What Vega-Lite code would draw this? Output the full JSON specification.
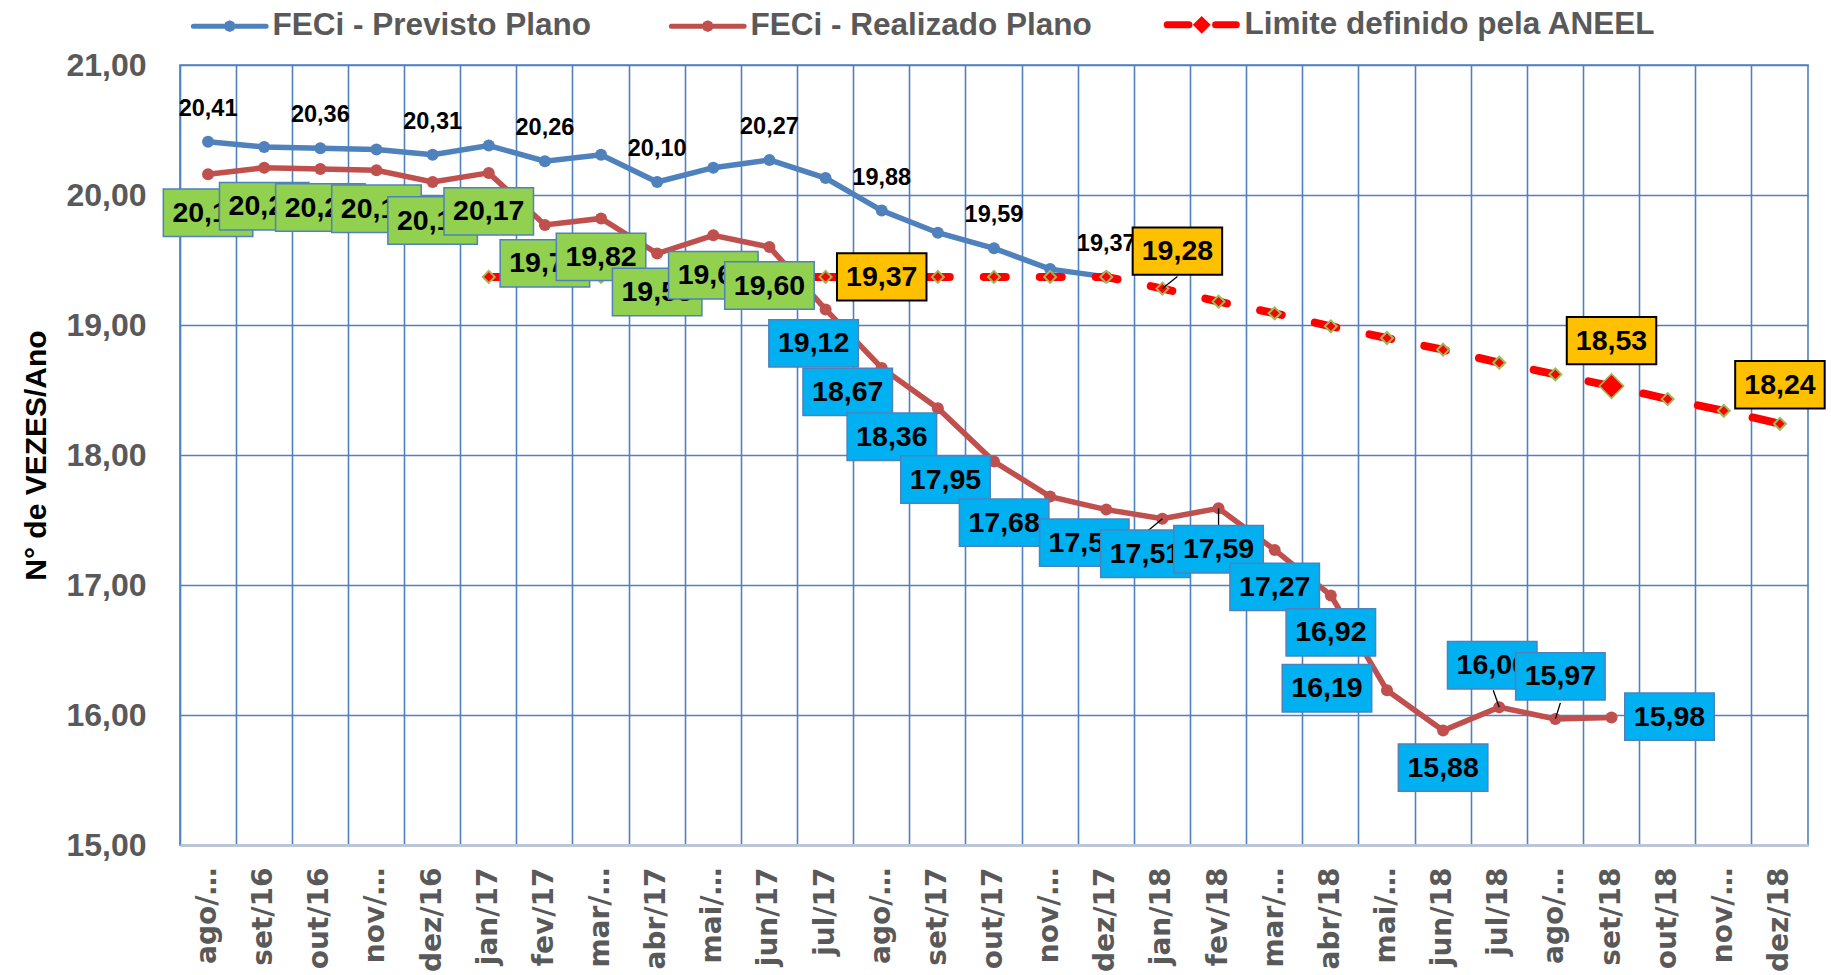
{
"$schema": "https://vega.github.io/schema/vega-lite/v6.json",
"width": 1628, "height": 780,
"autosize": {"type": "none"},
"padding": {"left": 180, "top": 65, "right": 23, "bottom": 130},
"background": "white",
"config": {
  "locale": {"number": {"decimal": ",", "thousands": ".", "grouping": [3], "currency": ["R$", ""]}},
  "view": {"stroke": "#4F81BD", "strokeWidth": 1.6},
  "font": "Liberation Sans"
},
"data": {"values": [
{"mes":"ago/16","previsto":20.41,"realizado":20.16,"limite":null},
{"mes":"set/16","previsto":20.37,"realizado":20.21,"limite":null},
{"mes":"out/16","previsto":20.36,"realizado":20.20,"limite":null},
{"mes":"nov/16","previsto":20.35,"realizado":20.19,"limite":null},
{"mes":"dez/16","previsto":20.31,"realizado":20.10,"limite":null},
{"mes":"jan/17","previsto":20.38,"realizado":20.17,"limite":19.37},
{"mes":"fev/17","previsto":20.26,"realizado":19.77,"limite":19.37},
{"mes":"mar/17","previsto":20.31,"realizado":19.82,"limite":19.37},
{"mes":"abr/17","previsto":20.10,"realizado":19.55,"limite":19.37},
{"mes":"mai/17","previsto":20.21,"realizado":19.69,"limite":19.37},
{"mes":"jun/17","previsto":20.27,"realizado":19.60,"limite":19.37},
{"mes":"jul/17","previsto":20.13,"realizado":19.12,"limite":19.37},
{"mes":"ago/17","previsto":19.88,"realizado":18.67,"limite":19.37},
{"mes":"set/17","previsto":19.71,"realizado":18.36,"limite":19.37},
{"mes":"out/17","previsto":19.59,"realizado":17.95,"limite":19.37},
{"mes":"nov/17","previsto":19.43,"realizado":17.68,"limite":19.37},
{"mes":"dez/17","previsto":19.37,"realizado":17.58,"limite":19.37},
{"mes":"jan/18","previsto":null,"realizado":17.51,"limite":19.28},
{"mes":"fev/18","previsto":null,"realizado":17.59,"limite":19.18},
{"mes":"mar/18","previsto":null,"realizado":17.27,"limite":19.09},
{"mes":"abr/18","previsto":null,"realizado":16.92,"limite":18.99},
{"mes":"mai/18","previsto":null,"realizado":16.19,"limite":18.90},
{"mes":"jun/18","previsto":null,"realizado":15.88,"limite":18.81},
{"mes":"jul/18","previsto":null,"realizado":16.06,"limite":18.71},
{"mes":"ago/18","previsto":null,"realizado":15.97,"limite":18.62},
{"mes":"set/18","previsto":null,"realizado":15.98,"limite":18.53},
{"mes":"out/18","previsto":null,"realizado":null,"limite":18.43},
{"mes":"nov/18","previsto":null,"realizado":null,"limite":18.34},
{"mes":"dez/18","previsto":null,"realizado":null,"limite":18.24}
]},
"encoding": {
  "x": {"field": "mes", "type": "ordinal", "sort": null,
    "scale": {"type": "band", "paddingInner": 0, "paddingOuter": 0},
    "axis": {"title": null, "labelAngle": -90, "labelFont": "DejaVu Sans", "labelFontSize": 28, "labelFontWeight": "bold", "labelColor": "#595959", "labelPadding": 22, "ticks": false, "bandPosition": 0, "grid": true, "gridColor": "#4F81BD", "gridWidth": 1.6, "domainColor": "#BCC6D6", "domainWidth": 3, "labelOverlap": false, "labelBound": false,
      "labelExpr": "indexof(['ago','nov','mar','mai'], slice(datum.value,0,3)) >= 0 ? slice(datum.value,0,4) + '…' : datum.value"}}
},
"layer": [
{"mark": {"type": "line", "strokeWidth": 5.5, "point": {"filled": true, "size": 144, "opacity": 1}},
 "encoding": {
  "y": {"field": "previsto", "type": "quantitative", "scale": {"domain": [15, 21], "nice": false, "zero": false},
    "axis": {"title": "N° de VEZES/Ano", "values": [15,16,17,18,19,20,21], "format": ".2f", "labelFont": "Liberation Sans", "labelFontSize": 32, "labelFontWeight": "bold", "labelColor": "#595959", "labelPadding": 34, "ticks": false, "domain": false, "grid": true, "gridColor": "#4F81BD", "gridWidth": 1.6, "titleFont": "Liberation Sans", "titleFontSize": 30, "titleFontWeight": "bold", "titleColor": "black", "titlePadding": 14}},
  "color": {"datum": "FECi  - Previsto Plano", "type": "nominal",
    "scale": {"domain": ["FECi  - Previsto Plano", "FECi - Realizado Plano", "Limite definido pela ANEEL"], "range": ["#4F81BD", "#C0504D", "#FF0000"]},
    "legend": {"orient": "none", "legendX": 34, "legendY": -56, "direction": "horizontal", "title": null, "padding": 0,
      "labelFont": "Liberation Sans", "labelFontSize": 31.5, "labelFontWeight": "bold", "labelColor": "#595959", "labelLimit": 1000, "labelOffset": 27,
      "symbolSize": 5300, "symbolStrokeWidth": 5, "columnPadding": 61,
      "encode": {"symbols": {"update": {
        "shape": {"signal": "datum.value === 'Limite definido pela ANEEL' ? 'M-0.95,0H-0.35M0.38,0H0.95M0,-0.11L0.11,0L0,0.11L-0.11,0Z' : 'M-1,0H1M0.09,0L0.064,0.064L0,0.09L-0.064,0.064L-0.09,0L-0.064,-0.064L0,-0.09L0.064,-0.064Z'"},
        "fill": {"signal": "datum.value === 'Limite definido pela ANEEL' ? '#FF0000' : datum.value === 'FECi - Realizado Plano' ? '#C0504D' : '#4F81BD'"},
        "strokeWidth": {"signal": "datum.value === 'Limite definido pela ANEEL' ? 7 : 5"},
        "strokeCap": {"value": "round"}
      }}}}}
 }},
{"mark": {"type": "line", "strokeWidth": 5.5, "point": {"filled": true, "size": 144, "opacity": 1}},
 "encoding": {"y": {"field": "realizado", "type": "quantitative"}, "color": {"datum": "FECi - Realizado Plano", "type": "nominal"}}},
{"mark": {"type": "line", "strokeWidth": 8, "strokeDash": [22, 34], "strokeDashOffset": 9, "strokeCap": "round"},
 "encoding": {"y": {"field": "limite", "type": "quantitative"}, "color": {"datum": "Limite definido pela ANEEL", "type": "nominal"}}},
{"transform": [{"filter": "isValid(datum.limite)"}],
 "mark": {"type": "point", "shape": "diamond", "filled": true, "fill": "#FF0000", "stroke": "#9BBB59", "strokeWidth": 2, "size": 144, "opacity": 1},
 "encoding": {"y": {"field": "limite", "type": "quantitative"}}},
{"transform": [{"filter": {"field": "mes", "equal": "set/18"}}],
 "mark": {"type": "point", "shape": "diamond", "filled": true, "fill": "#FF0000", "stroke": "#9BBB59", "strokeWidth": 1.5, "size": 600, "opacity": 1},
 "encoding": {"y": {"field": "limite", "type": "quantitative"}}},
{"transform": [{"filter": {"field": "mes", "oneOf": ["ago/16","out/16","dez/16","fev/17","abr/17","jun/17","ago/17","out/17","dez/17"]}}],
 "mark": {"type": "text", "fontSize": 23.5, "fontWeight": "bold", "color": "black", "dy": -33},
 "encoding": {"y": {"field": "previsto", "type": "quantitative"}, "text": {"field": "previsto", "type": "quantitative", "format": ".2f"}}},

{"transform":[{"filter":{"field":"mes","equal":"ago/16"}}],"encoding":{"y":{"field":"realizado","type":"quantitative"}},"layer":[
 {"mark":{"type":"point","shape":"M-1,-0.53H1V0.53H-1Z","size":8010,"filled":true,"fill":"#92D050","stroke":"#4F81BD","strokeWidth":1.5,"opacity":1,"xOffset":0,"yOffset":38.5}},
 {"mark":{"type":"text","fontSize":28.5,"fontWeight":"bold","color":"black","dx":0,"dy":38.5},"encoding":{"text":{"field":"realizado","type":"quantitative","format":".2f"}}}]},
{"transform":[{"filter":{"field":"mes","equal":"set/16"}}],"encoding":{"y":{"field":"realizado","type":"quantitative"}},"layer":[
 {"mark":{"type":"point","shape":"M-1,-0.53H1V0.53H-1Z","size":8010,"filled":true,"fill":"#92D050","stroke":"#4F81BD","strokeWidth":1.5,"opacity":1,"xOffset":0,"yOffset":38.5}},
 {"mark":{"type":"text","fontSize":28.5,"fontWeight":"bold","color":"black","dx":0,"dy":38.5},"encoding":{"text":{"field":"realizado","type":"quantitative","format":".2f"}}}]},
{"transform":[{"filter":{"field":"mes","equal":"out/16"}}],"encoding":{"y":{"field":"realizado","type":"quantitative"}},"layer":[
 {"mark":{"type":"point","shape":"M-1,-0.53H1V0.53H-1Z","size":8010,"filled":true,"fill":"#92D050","stroke":"#4F81BD","strokeWidth":1.5,"opacity":1,"xOffset":0,"yOffset":38.5}},
 {"mark":{"type":"text","fontSize":28.5,"fontWeight":"bold","color":"black","dx":0,"dy":38.5},"encoding":{"text":{"field":"realizado","type":"quantitative","format":".2f"}}}]},
{"transform":[{"filter":{"field":"mes","equal":"nov/16"}}],"encoding":{"y":{"field":"realizado","type":"quantitative"}},"layer":[
 {"mark":{"type":"point","shape":"M-1,-0.53H1V0.53H-1Z","size":8010,"filled":true,"fill":"#92D050","stroke":"#4F81BD","strokeWidth":1.5,"opacity":1,"xOffset":0,"yOffset":38.5}},
 {"mark":{"type":"text","fontSize":28.5,"fontWeight":"bold","color":"black","dx":0,"dy":38.5},"encoding":{"text":{"field":"realizado","type":"quantitative","format":".2f"}}}]},
{"transform":[{"filter":{"field":"mes","equal":"dez/16"}}],"encoding":{"y":{"field":"realizado","type":"quantitative"}},"layer":[
 {"mark":{"type":"point","shape":"M-1,-0.53H1V0.53H-1Z","size":8010,"filled":true,"fill":"#92D050","stroke":"#4F81BD","strokeWidth":1.5,"opacity":1,"xOffset":0,"yOffset":38.5}},
 {"mark":{"type":"text","fontSize":28.5,"fontWeight":"bold","color":"black","dx":0,"dy":38.5},"encoding":{"text":{"field":"realizado","type":"quantitative","format":".2f"}}}]},
{"transform":[{"filter":{"field":"mes","equal":"jan/17"}}],"encoding":{"y":{"field":"realizado","type":"quantitative"}},"layer":[
 {"mark":{"type":"point","shape":"M-1,-0.53H1V0.53H-1Z","size":8010,"filled":true,"fill":"#92D050","stroke":"#4F81BD","strokeWidth":1.5,"opacity":1,"xOffset":0,"yOffset":38.5}},
 {"mark":{"type":"text","fontSize":28.5,"fontWeight":"bold","color":"black","dx":0,"dy":38.5},"encoding":{"text":{"field":"realizado","type":"quantitative","format":".2f"}}}]},
{"transform":[{"filter":{"field":"mes","equal":"fev/17"}}],"encoding":{"y":{"field":"realizado","type":"quantitative"}},"layer":[
 {"mark":{"type":"point","shape":"M-1,-0.53H1V0.53H-1Z","size":8010,"filled":true,"fill":"#92D050","stroke":"#4F81BD","strokeWidth":1.5,"opacity":1,"xOffset":0,"yOffset":38.5}},
 {"mark":{"type":"text","fontSize":28.5,"fontWeight":"bold","color":"black","dx":0,"dy":38.5},"encoding":{"text":{"field":"realizado","type":"quantitative","format":".2f"}}}]},
{"transform":[{"filter":{"field":"mes","equal":"mar/17"}}],"encoding":{"y":{"field":"realizado","type":"quantitative"}},"layer":[
 {"mark":{"type":"point","shape":"M-1,-0.53H1V0.53H-1Z","size":8010,"filled":true,"fill":"#92D050","stroke":"#4F81BD","strokeWidth":1.5,"opacity":1,"xOffset":0,"yOffset":38.5}},
 {"mark":{"type":"text","fontSize":28.5,"fontWeight":"bold","color":"black","dx":0,"dy":38.5},"encoding":{"text":{"field":"realizado","type":"quantitative","format":".2f"}}}]},
{"transform":[{"filter":{"field":"mes","equal":"abr/17"}}],"encoding":{"y":{"field":"realizado","type":"quantitative"}},"layer":[
 {"mark":{"type":"point","shape":"M-1,-0.53H1V0.53H-1Z","size":8010,"filled":true,"fill":"#92D050","stroke":"#4F81BD","strokeWidth":1.5,"opacity":1,"xOffset":0,"yOffset":38.5}},
 {"mark":{"type":"text","fontSize":28.5,"fontWeight":"bold","color":"black","dx":0,"dy":38.5},"encoding":{"text":{"field":"realizado","type":"quantitative","format":".2f"}}}]},
{"transform":[{"filter":{"field":"mes","equal":"mai/17"}}],"encoding":{"y":{"field":"realizado","type":"quantitative"}},"layer":[
 {"mark":{"type":"point","shape":"M-1,-0.53H1V0.53H-1Z","size":8010,"filled":true,"fill":"#92D050","stroke":"#4F81BD","strokeWidth":1.5,"opacity":1,"xOffset":0,"yOffset":40}},
 {"mark":{"type":"text","fontSize":28.5,"fontWeight":"bold","color":"black","dx":0,"dy":40},"encoding":{"text":{"field":"realizado","type":"quantitative","format":".2f"}}}]},
{"transform":[{"filter":{"field":"mes","equal":"jun/17"}}],"encoding":{"y":{"field":"realizado","type":"quantitative"}},"layer":[
 {"mark":{"type":"point","shape":"M-1,-0.53H1V0.53H-1Z","size":8010,"filled":true,"fill":"#92D050","stroke":"#4F81BD","strokeWidth":1.5,"opacity":1,"xOffset":0,"yOffset":38.5}},
 {"mark":{"type":"text","fontSize":28.5,"fontWeight":"bold","color":"black","dx":0,"dy":38.5},"encoding":{"text":{"field":"realizado","type":"quantitative","format":".2f"}}}]},
{"transform":[{"filter":{"field":"mes","equal":"jul/17"}}],"encoding":{"y":{"field":"realizado","type":"quantitative"}},"layer":[
 {"mark":{"type":"point","shape":"M-1,-0.53H1V0.53H-1Z","size":8010,"filled":true,"fill":"#00B0F0","stroke":"#4F81BD","strokeWidth":1.5,"opacity":1,"xOffset":-12,"yOffset":34}},
 {"mark":{"type":"text","fontSize":28.5,"fontWeight":"bold","color":"black","dx":-12,"dy":34},"encoding":{"text":{"field":"realizado","type":"quantitative","format":".2f"}}}]},
{"transform":[{"filter":{"field":"mes","equal":"ago/17"}}],"encoding":{"y":{"field":"realizado","type":"quantitative"}},"layer":[
 {"mark":{"type":"point","shape":"M-1,-0.53H1V0.53H-1Z","size":8010,"filled":true,"fill":"#00B0F0","stroke":"#4F81BD","strokeWidth":1.5,"opacity":1,"xOffset":-34,"yOffset":24}},
 {"mark":{"type":"text","fontSize":28.5,"fontWeight":"bold","color":"black","dx":-34,"dy":24},"encoding":{"text":{"field":"realizado","type":"quantitative","format":".2f"}}}]},
{"transform":[{"filter":{"field":"mes","equal":"set/17"}}],"encoding":{"y":{"field":"realizado","type":"quantitative"}},"layer":[
 {"mark":{"type":"point","shape":"M-1,-0.53H1V0.53H-1Z","size":8010,"filled":true,"fill":"#00B0F0","stroke":"#4F81BD","strokeWidth":1.5,"opacity":1,"xOffset":-46,"yOffset":28.5}},
 {"mark":{"type":"text","fontSize":28.5,"fontWeight":"bold","color":"black","dx":-46,"dy":28.5},"encoding":{"text":{"field":"realizado","type":"quantitative","format":".2f"}}}]},
{"transform":[{"filter":{"field":"mes","equal":"out/17"}}],"encoding":{"y":{"field":"realizado","type":"quantitative"}},"layer":[
 {"mark":{"type":"point","shape":"M-1,-0.53H1V0.53H-1Z","size":8010,"filled":true,"fill":"#00B0F0","stroke":"#4F81BD","strokeWidth":1.5,"opacity":1,"xOffset":-48.5,"yOffset":18}},
 {"mark":{"type":"text","fontSize":28.5,"fontWeight":"bold","color":"black","dx":-48.5,"dy":18},"encoding":{"text":{"field":"realizado","type":"quantitative","format":".2f"}}}]},
{"transform":[{"filter":{"field":"mes","equal":"nov/17"}}],"encoding":{"y":{"field":"realizado","type":"quantitative"}},"layer":[
 {"mark":{"type":"point","shape":"M-1,-0.53H1V0.53H-1Z","size":8010,"filled":true,"fill":"#00B0F0","stroke":"#4F81BD","strokeWidth":1.5,"opacity":1,"xOffset":-46,"yOffset":26}},
 {"mark":{"type":"text","fontSize":28.5,"fontWeight":"bold","color":"black","dx":-46,"dy":26},"encoding":{"text":{"field":"realizado","type":"quantitative","format":".2f"}}}]},
{"transform":[{"filter":{"field":"mes","equal":"dez/17"}}],"encoding":{"y":{"field":"realizado","type":"quantitative"}},"layer":[
 {"mark":{"type":"point","shape":"M-1,-0.53H1V0.53H-1Z","size":8010,"filled":true,"fill":"#00B0F0","stroke":"#4F81BD","strokeWidth":1.5,"opacity":1,"xOffset":-22,"yOffset":33}},
 {"mark":{"type":"text","fontSize":28.5,"fontWeight":"bold","color":"black","dx":-22,"dy":33},"encoding":{"text":{"field":"realizado","type":"quantitative","format":".2f"}}}]},
{"transform":[{"filter":{"field":"mes","equal":"jan/18"}}],"encoding":{"y":{"field":"realizado","type":"quantitative"}},"layer":[
 {"mark":{"type":"point","shape":"M0,0L-0.77,0.635","size":1600,"filled":false,"stroke":"black","strokeWidth":1.3,"opacity":1}},
 {"mark":{"type":"point","shape":"M-1,-0.53H1V0.53H-1Z","size":8010,"filled":true,"fill":"#00B0F0","stroke":"#4F81BD","strokeWidth":1.5,"opacity":1,"xOffset":-17,"yOffset":35}},
 {"mark":{"type":"text","fontSize":28.5,"fontWeight":"bold","color":"black","dx":-17,"dy":35},"encoding":{"text":{"field":"realizado","type":"quantitative","format":".2f"}}}]},
{"transform":[{"filter":{"field":"mes","equal":"fev/18"}}],"encoding":{"y":{"field":"realizado","type":"quantitative"}},"layer":[
 {"mark":{"type":"point","shape":"M0,0L0,0.9","size":1600,"filled":false,"stroke":"black","strokeWidth":1.3,"opacity":1}},
 {"mark":{"type":"point","shape":"M-1,-0.53H1V0.53H-1Z","size":8010,"filled":true,"fill":"#00B0F0","stroke":"#4F81BD","strokeWidth":1.5,"opacity":1,"xOffset":0,"yOffset":41}},
 {"mark":{"type":"text","fontSize":28.5,"fontWeight":"bold","color":"black","dx":0,"dy":41},"encoding":{"text":{"field":"realizado","type":"quantitative","format":".2f"}}}]},
{"transform":[{"filter":{"field":"mes","equal":"mar/18"}}],"encoding":{"y":{"field":"realizado","type":"quantitative"}},"layer":[
 {"mark":{"type":"point","shape":"M-1,-0.53H1V0.53H-1Z","size":8010,"filled":true,"fill":"#00B0F0","stroke":"#4F81BD","strokeWidth":1.5,"opacity":1,"xOffset":0,"yOffset":37}},
 {"mark":{"type":"text","fontSize":28.5,"fontWeight":"bold","color":"black","dx":0,"dy":37},"encoding":{"text":{"field":"realizado","type":"quantitative","format":".2f"}}}]},
{"transform":[{"filter":{"field":"mes","equal":"abr/18"}}],"encoding":{"y":{"field":"realizado","type":"quantitative"}},"layer":[
 {"mark":{"type":"point","shape":"M-1,-0.53H1V0.53H-1Z","size":8010,"filled":true,"fill":"#00B0F0","stroke":"#4F81BD","strokeWidth":1.5,"opacity":1,"xOffset":0,"yOffset":37}},
 {"mark":{"type":"text","fontSize":28.5,"fontWeight":"bold","color":"black","dx":0,"dy":37},"encoding":{"text":{"field":"realizado","type":"quantitative","format":".2f"}}}]},
{"transform":[{"filter":{"field":"mes","equal":"mai/18"}}],"encoding":{"y":{"field":"realizado","type":"quantitative"}},"layer":[
 {"mark":{"type":"point","shape":"M-1,-0.53H1V0.53H-1Z","size":8010,"filled":true,"fill":"#00B0F0","stroke":"#4F81BD","strokeWidth":1.5,"opacity":1,"xOffset":-60,"yOffset":-2}},
 {"mark":{"type":"text","fontSize":28.5,"fontWeight":"bold","color":"black","dx":-60,"dy":-2},"encoding":{"text":{"field":"realizado","type":"quantitative","format":".2f"}}}]},
{"transform":[{"filter":{"field":"mes","equal":"jun/18"}}],"encoding":{"y":{"field":"realizado","type":"quantitative"}},"layer":[
 {"mark":{"type":"point","shape":"M-1,-0.53H1V0.53H-1Z","size":8010,"filled":true,"fill":"#00B0F0","stroke":"#4F81BD","strokeWidth":1.5,"opacity":1,"xOffset":0,"yOffset":37}},
 {"mark":{"type":"text","fontSize":28.5,"fontWeight":"bold","color":"black","dx":0,"dy":37},"encoding":{"text":{"field":"realizado","type":"quantitative","format":".2f"}}}]},
{"transform":[{"filter":{"field":"mes","equal":"jul/18"}}],"encoding":{"y":{"field":"realizado","type":"quantitative"}},"layer":[
 {"mark":{"type":"point","shape":"M0,0L-0.3,-0.85","size":1600,"filled":false,"stroke":"black","strokeWidth":1.3,"opacity":1}},
 {"mark":{"type":"point","shape":"M-1,-0.53H1V0.53H-1Z","size":8010,"filled":true,"fill":"#00B0F0","stroke":"#4F81BD","strokeWidth":1.5,"opacity":1,"xOffset":-7,"yOffset":-42}},
 {"mark":{"type":"text","fontSize":28.5,"fontWeight":"bold","color":"black","dx":-7,"dy":-42},"encoding":{"text":{"field":"realizado","type":"quantitative","format":".2f"}}}]},
{"transform":[{"filter":{"field":"mes","equal":"ago/18"}}],"encoding":{"y":{"field":"realizado","type":"quantitative"}},"layer":[
 {"mark":{"type":"point","shape":"M0,0L0.25,-0.8","size":1600,"filled":false,"stroke":"black","strokeWidth":1.3,"opacity":1}},
 {"mark":{"type":"point","shape":"M-1,-0.53H1V0.53H-1Z","size":8010,"filled":true,"fill":"#00B0F0","stroke":"#4F81BD","strokeWidth":1.5,"opacity":1,"xOffset":5,"yOffset":-42.5}},
 {"mark":{"type":"text","fontSize":28.5,"fontWeight":"bold","color":"black","dx":5,"dy":-42.5},"encoding":{"text":{"field":"realizado","type":"quantitative","format":".2f"}}}]},
{"transform":[{"filter":{"field":"mes","equal":"set/18"}}],"encoding":{"y":{"field":"realizado","type":"quantitative"}},"layer":[
 {"mark":{"type":"point","shape":"M-1,-0.53H1V0.53H-1Z","size":8010,"filled":true,"fill":"#00B0F0","stroke":"#4F81BD","strokeWidth":1.5,"opacity":1,"xOffset":58,"yOffset":-1}},
 {"mark":{"type":"text","fontSize":28.5,"fontWeight":"bold","color":"black","dx":58,"dy":-1},"encoding":{"text":{"field":"realizado","type":"quantitative","format":".2f"}}}]},

{"transform":[{"filter":{"field":"mes","equal":"ago/17"}}],"encoding":{"y":{"field":"limite","type":"quantitative"}},"layer":[
 {"mark":{"type":"point","shape":"M-1,-0.53H1V0.53H-1Z","size":8010,"filled":true,"fill":"#FFC000","stroke":"black","strokeWidth":2,"opacity":1,"xOffset":0,"yOffset":0}},
 {"mark":{"type":"text","fontSize":28.5,"fontWeight":"bold","color":"black","dx":0,"dy":0},"encoding":{"text":{"field":"limite","type":"quantitative","format":".2f"}}}]},
{"transform":[{"filter":{"field":"mes","equal":"jan/18"}}],"encoding":{"y":{"field":"limite","type":"quantitative"}},"layer":[
 {"mark":{"type":"point","shape":"M0,0L0.75,-0.6","size":1600,"filled":false,"stroke":"black","strokeWidth":1.3,"opacity":1}},
 {"mark":{"type":"point","shape":"M-1,-0.53H1V0.53H-1Z","size":8010,"filled":true,"fill":"#FFC000","stroke":"black","strokeWidth":2,"opacity":1,"xOffset":15,"yOffset":-37.5}},
 {"mark":{"type":"text","fontSize":28.5,"fontWeight":"bold","color":"black","dx":15,"dy":-37.5},"encoding":{"text":{"field":"limite","type":"quantitative","format":".2f"}}}]},
{"transform":[{"filter":{"field":"mes","equal":"set/18"}}],"encoding":{"y":{"field":"limite","type":"quantitative"}},"layer":[
 {"mark":{"type":"point","shape":"M-1,-0.53H1V0.53H-1Z","size":8010,"filled":true,"fill":"#FFC000","stroke":"black","strokeWidth":2,"opacity":1,"xOffset":0,"yOffset":-45.5}},
 {"mark":{"type":"text","fontSize":28.5,"fontWeight":"bold","color":"black","dx":0,"dy":-45.5},"encoding":{"text":{"field":"limite","type":"quantitative","format":".2f"}}}]},
{"transform":[{"filter":{"field":"mes","equal":"dez/18"}}],"encoding":{"y":{"field":"limite","type":"quantitative"}},"layer":[
 {"mark":{"type":"point","shape":"M-1,-0.53H1V0.53H-1Z","size":8010,"filled":true,"fill":"#FFC000","stroke":"black","strokeWidth":2,"opacity":1,"xOffset":0,"yOffset":-39}},
 {"mark":{"type":"text","fontSize":28.5,"fontWeight":"bold","color":"black","dx":0,"dy":-39},"encoding":{"text":{"field":"limite","type":"quantitative","format":".2f"}}}]}
]
}
